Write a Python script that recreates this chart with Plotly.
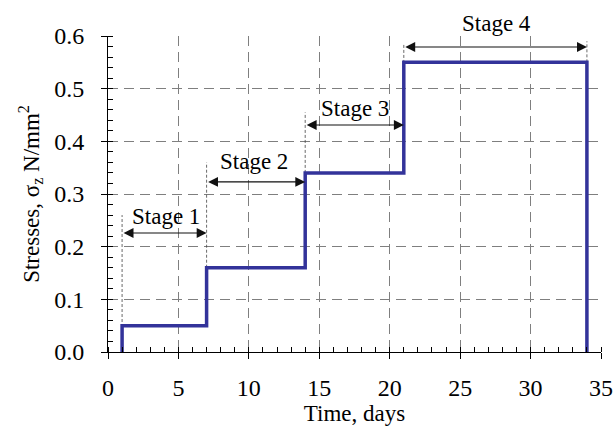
import plotly.graph_objects as go

# Loading history: stress steps over time
time_days = [1, 1, 7, 7, 14, 14, 21, 21, 34, 34]
stress = [0.0, 0.05, 0.05, 0.16, 0.16, 0.34, 0.34, 0.55, 0.55, 0.0]

# Thin marker lines at the stage boundaries (x, bottom, top)
marker_x = [1, 7, 14, 21, 34]
marker_y0 = [0.0, 0.16, 0.34, 0.34, 0.55]
marker_y1 = [0.26, 0.36, 0.455, 0.585, 0.59]

# Stage dimension arrows and their labels
stage_names = ["Stage 1", "Stage 2", "Stage 3", "Stage 4"]
stage_start = [1, 7, 14, 21]
stage_end = [7, 14, 21, 34]
stage_label_x = [4.1, 10.4, 17.5, 27.6]
stage_arrow_y = [0.226, 0.323, 0.431, 0.579]
stage_label_y = [0.258, 0.361, 0.463, 0.624]

serif = "Liberation Serif, Times New Roman, serif"
line_color = "#33339a"
y_max = 0.6

fig = go.Figure()

for x, y0, y1 in zip(marker_x, marker_y0, marker_y1):
    fig.add_trace(go.Scatter(
        x=[x, x], y=[y0, y1], mode="lines",
        line=dict(color="#444444", width=0.8, dash="3px,2px"),
        hoverinfo="skip", showlegend=False,
    ))

fig.add_trace(go.Scatter(
    x=time_days, y=stress, mode="lines",
    line=dict(color=line_color, width=3.5),
    showlegend=False,
))

annotations = []
for name, xs, xe, xl, ya, yl in zip(stage_names, stage_start, stage_end,
                                    stage_label_x, stage_arrow_y, stage_label_y):
    annotations.append(dict(
        x=xe, y=ya, ax=xs, ay=ya, xref="x", yref="y", axref="x", ayref="y",
        text="", showarrow=True, arrowhead=2, arrowside="end+start",
        arrowsize=1.8, arrowwidth=1.1, arrowcolor="#111111",
        startstandoff=0, standoff=0,
    ))
    # labels above the plot top are placed in paper coordinates so they stay visible
    annotations.append(dict(
        x=xl, y=yl / y_max, xref="x", yref="paper", text=name,
        xanchor="center", yanchor="middle",
        showarrow=False, font=dict(family=serif, size=23, color="black"),
    ))

fig.update_layout(
    width=614, height=427,
    margin=dict(l=108, r=13, t=36, b=75),
    paper_bgcolor="white", plot_bgcolor="white",
    font=dict(family=serif, color="black"),
    annotations=annotations,
)

fig.update_xaxes(
    range=[0, 35], tick0=0, dtick=5, automargin=False,
    showline=True, linecolor="black", linewidth=1,
    ticks="outside", ticklen=6, tickcolor="black",
    tickfont=dict(family=serif, size=24), ticklabelstandoff=8,
    showgrid=True, gridcolor="#7f7f7f", gridwidth=1, griddash="10px,6px",
    minor=dict(dtick=1, ticks="inside", ticklen=5, tickcolor="black", showgrid=False),
    zeroline=False,
    title=dict(text="Time, days", font=dict(family=serif, size=23), standoff=0),
)

fig.update_yaxes(
    range=[0, y_max], tick0=0, dtick=0.1, tickformat=".1f", automargin=False,
    showline=True, linecolor="black", linewidth=1,
    ticks="outside", ticklen=6, tickcolor="black",
    tickfont=dict(family=serif, size=24), ticklabelstandoff=12,
    showgrid=True, gridcolor="#7f7f7f", gridwidth=1, griddash="10px,6px",
    minor=dict(dtick=0.02, ticks="inside", ticklen=5, tickcolor="black", showgrid=False),
    zeroline=False,
    title=dict(text="Stresses, σ<sub>z</sub> N/mm<sup>2</sup>",
               font=dict(family=serif, size=23), standoff=8),
)

fig.write_html("out.html")
